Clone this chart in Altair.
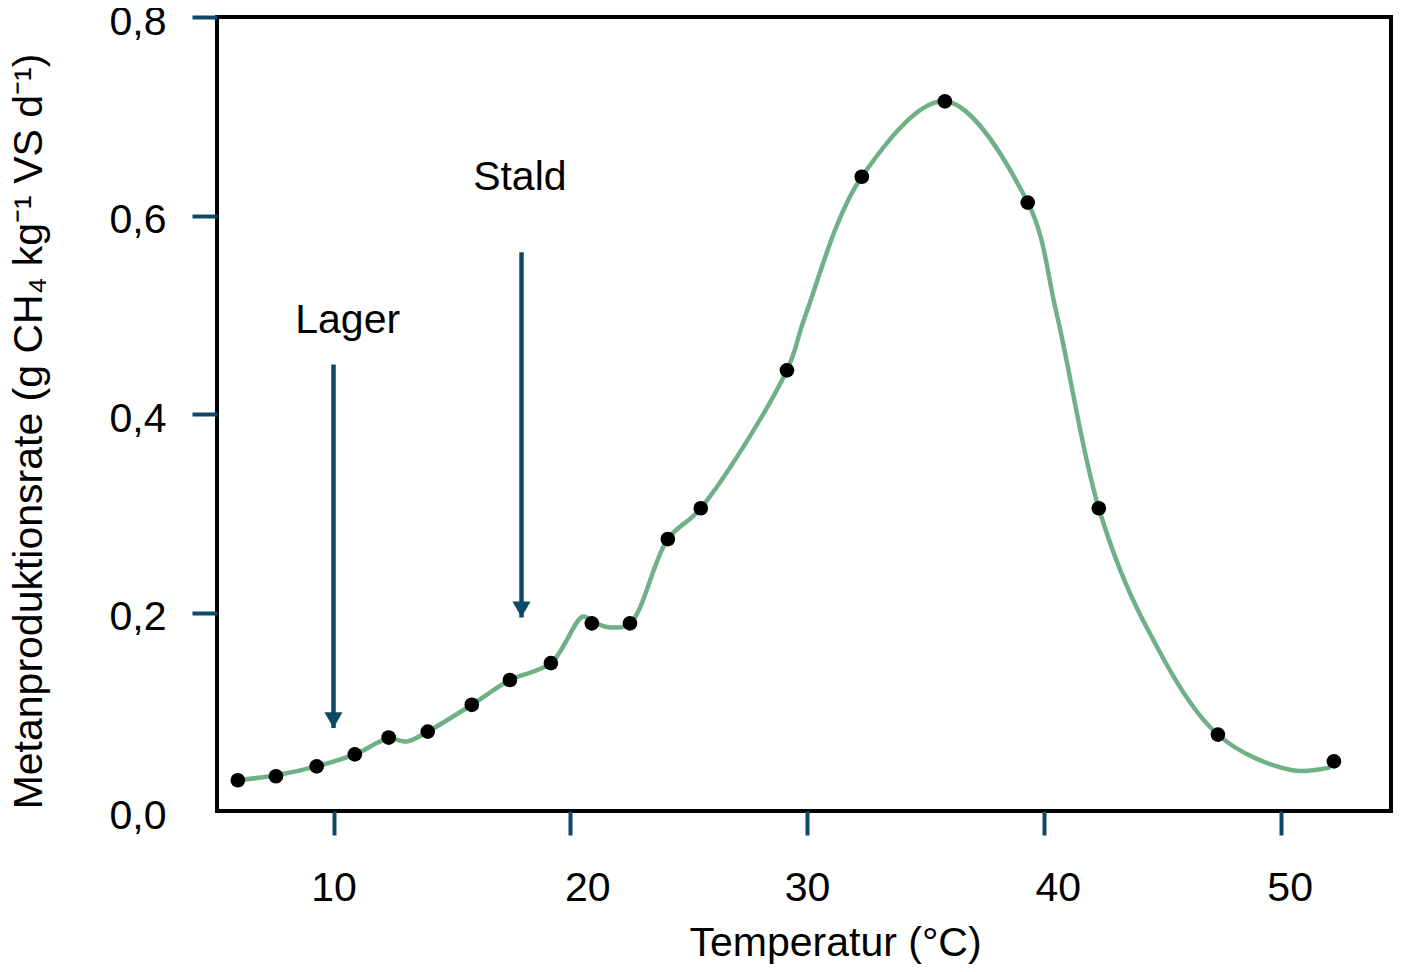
import altair as alt
import pandas as pd

# Measured points (temperature °C, methane production rate)
temp = [5.96, 7.57, 9.29, 10.9, 12.33, 13.98, 15.84, 17.45, 19.18, 20.91,
        22.52, 24.12, 25.51, 29.15, 32.31, 35.82, 39.32, 42.32, 47.35, 52.25]
rate = [0.031, 0.035, 0.045, 0.057, 0.074, 0.080, 0.107, 0.132, 0.149, 0.189,
        0.189, 0.274, 0.305, 0.444, 0.639, 0.715, 0.613, 0.305, 0.077, 0.050]

# Fitted curve
curve_t = [5.96, 7.57, 9.29, 10.9, 12.33, 13.1, 13.98, 15.84, 17.45, 19.18,
           20.54, 21.0, 21.67, 22.52, 24.12, 25.51, 29.15, 29.91, 32.31,
           35.82, 39.32, 40.54, 42.32, 44.19, 47.35, 50.5, 52.1]
curve_r = [0.031, 0.036, 0.045, 0.057, 0.073, 0.070, 0.080, 0.107, 0.132, 0.149,
           0.196, 0.190, 0.185, 0.189, 0.274, 0.305, 0.444, 0.498, 0.639,
           0.715, 0.613, 0.501, 0.305, 0.192, 0.077, 0.041, 0.044]

# Annotation arrows
arrow_label = ["Lager", "Stald"]
arrow_x = [10.0, 17.94]
arrow_top = [0.450, 0.563]
arrow_tip = [0.0836, 0.195]
label_x = [10.6, 17.87]
label_y = [0.494, 0.638]

x_ticks = [10, 20, 30, 40, 50]
y_ticks = [0.0, 0.2, 0.4, 0.6, 0.8]

pts = pd.DataFrame({"t": temp, "r": rate})
crv = pd.DataFrame({"t": curve_t, "r": curve_r})
arr = pd.DataFrame({"label": arrow_label, "x": arrow_x, "top": arrow_top,
                    "tip": arrow_tip, "lx": label_x, "ly": label_y})

FONT = "Arial, Liberation Sans"
FS = 41
TICK = "#0d4a68"
ARROW = "#0b4a66"

xscale = alt.Scale(domain=[5.08, 54.66], nice=False, zero=False)
yscale = alt.Scale(domain=[0, 0.8], nice=False)

xaxis = alt.Axis(
    values=x_ticks, title="Temperatur (°C)", grid=False, domain=False,
    tickSize=24, tickWidth=4, tickColor=TICK, labelPadding=33,
    labelOffset={"condition": [
        {"test": "datum.value === 20", "value": 17},
        {"test": "datum.value === 40", "value": 14},
        {"test": "datum.value === 50", "value": 9},
    ], "value": 0},
    labelFontSize=FS, labelFont=FONT, labelColor="black",
    titleFontSize=FS, titleFont=FONT, titleFontWeight="normal", titleColor="black",
    titleX=618, titleY=144, titleAlign="center", titleBaseline="alphabetic",
)
yaxis = alt.Axis(
    values=y_ticks, title="Metanproduktionsrate (g CH₄ kg⁻¹ VS d⁻¹)", grid=False,
    domain=False, tickSize=25, tickWidth=4, tickColor=TICK,
    tickOpacity={"condition": {"test": "datum.value === 0", "value": 0}, "value": 1},
    labelPadding=26, labelOffset=5,
    labelExpr="replace(format(datum.value, '.1f'), '.', ',')",
    labelFontSize=FS, labelFont=FONT, labelColor="black",
    titleFontSize=FS, titleFont=FONT, titleFontWeight="normal", titleColor="black",
    titleX=-188, titleY=414, titleAlign="center", titleBaseline="middle", titleAngle=-90,
)

line = alt.Chart(crv).mark_line(color="#70b087", strokeWidth=4.5, interpolate="catmull-rom").encode(
    x=alt.X("t:Q", scale=xscale, axis=xaxis),
    y=alt.Y("r:Q", scale=yscale, axis=yaxis),
)

dots = alt.Chart(pts).mark_circle(color="black", opacity=1, size=215).encode(
    x=alt.X("t:Q", scale=xscale),
    y=alt.Y("r:Q", scale=yscale),
)

shaft = alt.Chart(arr).mark_rule(color=ARROW, strokeWidth=4.5).encode(
    x=alt.X("x:Q", scale=xscale),
    y=alt.Y("top:Q", scale=yscale),
    y2=alt.Y2("tip:Q"),
)

head = alt.Chart(arr).mark_point(shape="triangle-down", filled=True, color=ARROW,
                                 opacity=1, size=330, yOffset=-8).encode(
    x=alt.X("x:Q", scale=xscale),
    y=alt.Y("tip:Q", scale=yscale),
)

labels = alt.Chart(arr).mark_text(font=FONT, fontSize=FS, color="black",
                                  align="center", baseline="middle").encode(
    x=alt.X("lx:Q", scale=xscale),
    y=alt.Y("ly:Q", scale=yscale),
    text="label:N",
)

chart = alt.layer(line, shaft, head, dots, labels).properties(
    width=1174, height=794,
    padding={"left": 209, "top": 9, "right": 2, "bottom": 153},
    autosize=alt.AutoSizeParams(type="none"),
).configure_view(stroke="black", strokeWidth=4)

chart.save("out.html", embed_options={"renderer": "svg", "actions": False})
